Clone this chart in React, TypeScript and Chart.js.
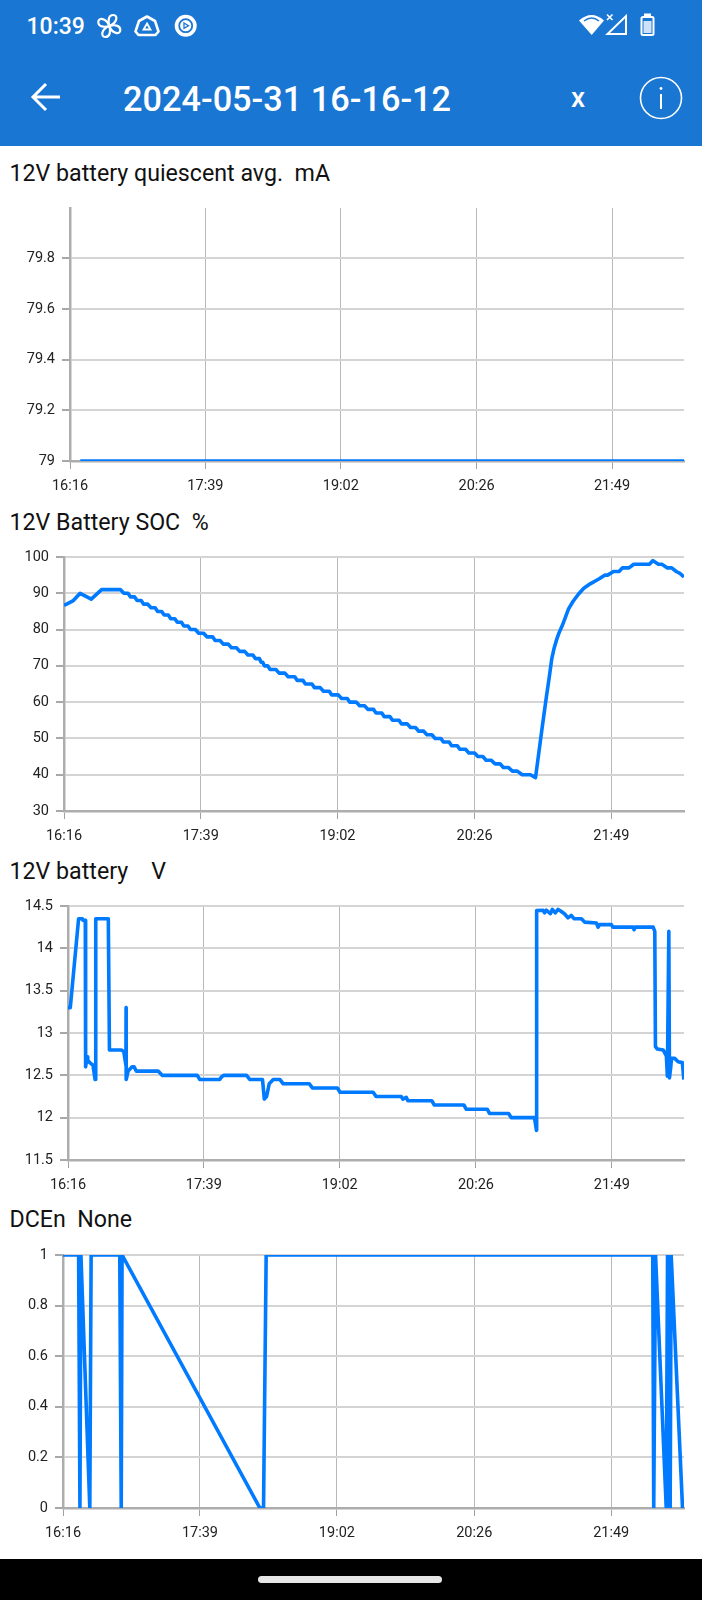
import React, { useEffect, useRef } from "react";
import { Chart, registerables } from "chart.js";

Chart.register(...registerables);

const xTickMinutes = [0, 83.25, 166.5, 250, 333.25];
const xTickLabels = ["16:16", "17:39", "19:02", "20:26", "21:49"];
const xMax = 377.5;

// Chart 1
const quiescentMinutes = [6.3, 377.5];
const quiescentValues = [79, 79];
const quiescentTicks = [79, 79.2, 79.4, 79.6, 79.8];
const quiescentLabels = ["79", "79.2", "79.4", "79.6", "79.8"];

// Chart 2
const socMinutes = [
  0, 1.6, 5.7, 9.8, 16.6, 22.9, 34.4, 36.5, 39, 40.5, 43, 44.5, 47, 48.5, 51, 53, 55.5, 57, 59.5, 61, 63.5, 65, 67.5,
  69, 71.5, 73, 75.5, 77, 80, 82, 85, 87, 90.5, 92, 95, 97, 100, 102, 105, 107, 110, 112, 115, 116.5, 119, 120, 121,
  122, 124, 125.5, 129, 131, 134.5, 136.5, 140.5, 142, 145.5, 147, 151, 152.5, 156, 158, 161.5, 163, 167, 169, 172.5,
  174, 178, 180, 183, 185, 188.5, 190, 193.5, 195, 198.5, 200, 204, 205.5, 209, 211, 214, 216, 219, 221, 224, 226,
  229.5, 231, 234.5, 236, 239.5, 241, 244.5, 246.5, 250, 252, 255, 257, 260, 262.5, 265.5, 267.5, 270.5, 273, 276,
  279, 284, 287.1, 290.9, 293.7, 295.5, 297, 298.5, 300, 301.5, 303.2, 305, 307.2, 310, 313.3, 316.5, 320.4, 325.9, 329.2, 331, 334.6, 338,
  340, 344, 346.9, 356.4, 358.6, 361.9, 364, 367.4, 370, 372.8, 375, 377.5,
];
const socValues = [
  86.7, 87, 88, 90, 88.4, 91, 91, 90, 90, 89, 89, 88, 88, 87, 87, 86, 86, 85, 85, 84, 84, 83, 83,
  82, 82, 81, 81, 80, 80, 79, 79, 78, 78, 77, 77, 76, 76, 75, 75, 74, 74, 73, 73, 72, 72, 71, 71,
  70, 70, 69, 69, 68, 68, 67, 67, 66, 66, 65, 65, 64, 64, 63, 63, 62, 62, 61, 61,
  60, 60, 59, 59, 58, 58, 57, 57, 56, 56, 55, 55, 54, 54, 53, 53, 52, 52, 51, 51, 50,
  50, 49, 49, 48, 48, 47, 47, 46, 46, 45, 45, 44, 44, 43, 43, 42, 42, 41, 41,
  40, 40, 39.2, 52.2, 61.4, 67, 72, 75, 77.3, 79.2, 80.9, 83, 85.7, 87.8, 89.8, 91.4, 92.6, 94, 95, 95, 96, 96,
  97, 97, 98, 98, 99, 98, 98, 97, 97, 96, 95.5, 94.5,
];
const socTicks = [30, 40, 50, 60, 70, 80, 90, 100];
const socLabels = ["30", "40", "50", "60", "70", "80", "90", "100"];

// Chart 3
const voltMinutes = [
  0, 1.4, 6.5, 8.8, 9.2, 10.6, 10.8, 11.7, 12.1, 13.3, 15.3, 16.6, 17, 18.6, 24.7, 25.4, 32.7, 34.2, 35.5, 35.6, 35.65, 36.8,
  39.3, 40.5, 41.9, 55.2, 57.7, 79.2, 80.8, 93, 94, 95.5, 109.4, 111.5, 119.2, 120.3, 121.7, 123.3, 125.8, 129.9,
  131.9, 147.9, 149.9, 165.1, 166.7, 187, 188.8, 204.2, 205.2, 207.3, 208.3, 209.9, 222.9, 224.5, 242.6, 244, 256.9,
  258.3, 270, 271.6, 285.9, 287.1, 287.2, 291.1, 292.1, 293.1, 295.6, 296.8, 298.6, 300.3, 301.9, 304.4, 306.4, 308.4,
  310.1, 314.6, 316.6, 323.8, 324.8, 325.8, 333, 334, 346.3, 346.9, 347.7, 358.6, 359.6, 360, 361.2, 364.7, 366.7,
  367.3, 368.2, 368.6, 369.4, 369.8, 371.8, 373.9, 376.5, 377.4,
];
const voltValues = [
  13.3, 13.3, 14.35, 14.35, 14.33, 14.33, 12.6, 12.72, 12.68, 12.65, 12.62, 12.45, 14.35, 14.35, 14.35, 12.8, 12.8, 12.78, 12.62, 13.3, 12.45, 12.55,
  12.6, 12.6, 12.55, 12.55, 12.5, 12.5, 12.45, 12.45, 12.48, 12.5, 12.5, 12.45, 12.45, 12.22, 12.25, 12.4, 12.45, 12.45,
  12.4, 12.4, 12.35, 12.35, 12.3, 12.3, 12.25, 12.25, 12.22, 12.24, 12.2, 12.2, 12.2, 12.15, 12.15, 12.1, 12.1,
  12.05, 12.05, 12, 12, 11.85, 14.445, 14.45, 14.42, 14.45, 14.41, 14.46, 14.42, 14.46, 14.44, 14.405, 14.36, 14.39,
  14.35, 14.35, 14.31, 14.3, 14.25, 14.28, 14.28, 14.25, 14.25, 14.22, 14.25, 14.25, 14.2, 12.84, 12.81, 12.8, 12.73,
  12.49, 14.2, 12.47, 12.6, 12.7, 12.7, 12.66, 12.65, 12.45,
];
const voltTicks = [11.5, 12, 12.5, 13, 13.5, 14, 14.5];
const voltLabels = ["11.5", "12", "12.5", "13", "13.5", "14", "14.5"];

// Chart 4
const dcenMinutes = [
  0, 9.5, 10.3, 10.9, 16.3, 17.1, 34.5, 35.4, 35.9, 119.7, 121.9, 123.5, 358.5, 359.1, 360.2, 366.7, 367.5, 368.3,
  369.1, 369.7, 376.6, 377.5,
];
const dcenValues = [1, 1, 0, 1, 0, 1, 1, 0, 1, 0, 0, 1, 1, 0, 1, 0, 1, 0, 0, 1, 0, 0];
const dcenTicks = [0, 0.2, 0.4, 0.6, 0.8, 1];
const dcenLabels = ["0", "0.2", "0.4", "0.6", "0.8", "1"];

const PAD_TOP = 16;
const AXIS_H = 42;
const RIGHT_END = 684;
const BLUE = "#1976D2";

function Panel({
  top, bottom, left, minutes, values, yMin, yMax, ticks, labels,
}: {
  top: number; bottom: number; left: number; minutes: number[]; values: number[];
  yMin: number; yMax: number; ticks: number[]; labels: string[];
}) {
  const ref = useRef<HTMLCanvasElement | null>(null);
  useEffect(() => {
    if (!ref.current) return;
    const chart = new Chart(ref.current, {
      type: "line",
      data: {
        datasets: [{
          data: minutes.map((m, i) => ({ x: m, y: values[i] })),
          borderColor: "#007AFF",
          borderWidth: 3.6,
          pointRadius: 0,
          tension: 0,
          fill: false,
          borderJoinStyle: "round",
        }],
      },
      options: {
        animation: false,
        responsive: false,
        maintainAspectRatio: false,
        devicePixelRatio: 1,
        layout: { padding: { top: PAD_TOP, right: 702 - RIGHT_END, bottom: 0, left: 0 } },
        plugins: { legend: { display: false }, title: { display: false }, tooltip: { enabled: false } },
        scales: {
          x: {
            type: "linear",
            min: 0,
            max: xMax,
            afterBuildTicks: (s: any) => { s.ticks = xTickMinutes.map((v) => ({ value: v })); },
            afterFit: (s: any) => { s.height = AXIS_H; },
            ticks: {
              autoSkip: false, maxRotation: 0, minRotation: 0, padding: 9,
              color: "#222", font: { family: "Roboto", size: 14.5 },
              callback: (_v: any, i: number) => xTickLabels[i],
            },
            grid: { color: "#b8b8b8", lineWidth: 1, tickLength: 8, tickColor: "#a0a0a0" },
            border: { display: true, color: "#adadad", width: 2.5 },
          },
          y: {
            type: "linear",
            min: yMin,
            max: yMax,
            afterBuildTicks: (s: any) => { s.ticks = ticks.map((v) => ({ value: v })); },
            afterFit: (s: any) => { s.width = left; },
            ticks: {
              autoSkip: false, padding: 7,
              color: "#222", font: { family: "Roboto", size: 14.5 },
              callback: (_v: any, i: number) => labels[i],
            },
            grid: { color: "#d4d4d4", lineWidth: 2, tickLength: 8, tickColor: "#a8a8a8" },
            border: { display: true, color: "#adadad", width: 2.5 },
          },
        },
      } as any,
    });
    return () => chart.destroy();
  }, []);
  return (
    <canvas
      ref={ref}
      width={702}
      height={bottom - top + PAD_TOP + AXIS_H}
      style={{ position: "absolute", left: 0, top: top - PAD_TOP, width: 702, height: bottom - top + PAD_TOP + AXIS_H, display: "block" }}
    />
  );
}

function Title({ y, text }: { y: number; text: string }) {
  return (
    <div style={{ position: "absolute", left: 9.5, top: y - 15, height: 30, lineHeight: "30px", fontFamily: "Roboto", fontSize: 23.2, color: "#111", whiteSpace: "pre" }}>
      {text}
    </div>
  );
}

const fanRotations = [0, 90, 180, 270];

export default function App() {
  useEffect(() => { document.body.style.margin = "0"; }, []);
  return (
    <div style={{ position: "absolute", left: 0, top: 0, width: 702, height: 1600, background: "#fff", overflow: "hidden" }}>
      <div style={{ position: "absolute", left: 0, top: 0, width: 702, height: 146, background: BLUE }} />
      <div style={{ position: "absolute", left: 26.5, top: 12, height: 30, lineHeight: "30px", fontFamily: "Roboto", fontWeight: 500, fontSize: 23, color: "#fff" }}>10:39</div>
      <div style={{ position: "absolute", left: 123, top: 77, height: 44, lineHeight: "44px", fontFamily: "Roboto", fontWeight: 500, fontSize: 34.3, color: "#fff", whiteSpace: "pre" }}>2024-05-31 16-16-12</div>
      <div style={{ position: "absolute", left: 571, top: 80, height: 36, lineHeight: "36px", fontFamily: "Roboto", fontWeight: 500, fontSize: 28, color: "#fff" }}>x</div>
      <svg width={702} height={146} style={{ position: "absolute", left: 0, top: 0 }}>
        <g fill="none" stroke="#fff">
          <path d="M60 97H35M46 84L33 97L46 110" strokeWidth={3} />
          <circle cx={661} cy={98} r={20.5} strokeWidth={1.6} />
          <path d="M661 94V109" strokeWidth={2} />
          {fanRotations.map((r) => (
            <path key={r} transform={`translate(109.3 26) rotate(${r})`} d="M0 0C-1.5 -5 -1 -11 4 -11C9 -11 8 -3 0 0Z" strokeWidth={2.2} strokeLinejoin="round" />
          ))}
          <path d="M147 16.5l8 4.5l3.5 10.5l-3 3.5h-17l-3 -3.5l3.5 -10.5z" strokeWidth={2.6} strokeLinejoin="round" />
          <path d="M147 23.5l3.5 6h-7z" strokeWidth={1.8} />
          <path d="M607.5 34H626V16Z" strokeWidth={2} />
          <path d="M607 14.5l5.5 5.5M612.5 14.5l-5.5 5.5" strokeWidth={1.6} />
          <rect x={641.5} y={17} width={12} height={18} rx={1.5} strokeWidth={2} />
        </g>
        <g fill="#fff">
          <circle cx={661} cy={88.5} r={1.4} />
          <circle cx={185.7} cy={25.7} r={11} />
          <path d="M579 20.5Q591.7 9.5 604 20.5L591.7 35Z" />
          <rect x={644} y={13.5} width={7} height={3} />
        </g>
        <circle cx={185.7} cy={25.7} r={6.5} fill="none" stroke={BLUE} strokeWidth={1.8} />
        <path d="M184 23l4.5 2.7l-4.5 2.7z" fill="none" stroke={BLUE} strokeWidth={1.3} />
        <path d="M584 21Q591.7 15 599 21" fill="none" stroke={BLUE} strokeWidth={1.5} />
        <rect x={643.5} y={21} width={8} height={12} fill="#cfe1f6" />
      </svg>

      <Title y={173} text="12V battery quiescent avg.  mA" />
      <Panel top={208} bottom={461} left={70} minutes={quiescentMinutes} values={quiescentValues} yMin={79} yMax={79.999} ticks={quiescentTicks} labels={quiescentLabels} />

      <Title y={522} text="12V Battery SOC  %" />
      <Panel top={557} bottom={811} left={64} minutes={socMinutes} values={socValues} yMin={30} yMax={100} ticks={socTicks} labels={socLabels} />

      <Title y={871} text="12V battery    V" />
      <Panel top={906} bottom={1160} left={68} minutes={voltMinutes} values={voltValues} yMin={11.5} yMax={14.5} ticks={voltTicks} labels={voltLabels} />

      <Title y={1219} text="DCEn  None" />
      <Panel top={1255} bottom={1508} left={63} minutes={dcenMinutes} values={dcenValues} yMin={0} yMax={1} ticks={dcenTicks} labels={dcenLabels} />

      <div style={{ position: "absolute", left: 0, top: 1559, width: 702, height: 41, background: "#000" }} />
      <div style={{ position: "absolute", left: 258, top: 1576, width: 184, height: 7, borderRadius: 4, background: "#e6e6e6" }} />
    </div>
  );
}
